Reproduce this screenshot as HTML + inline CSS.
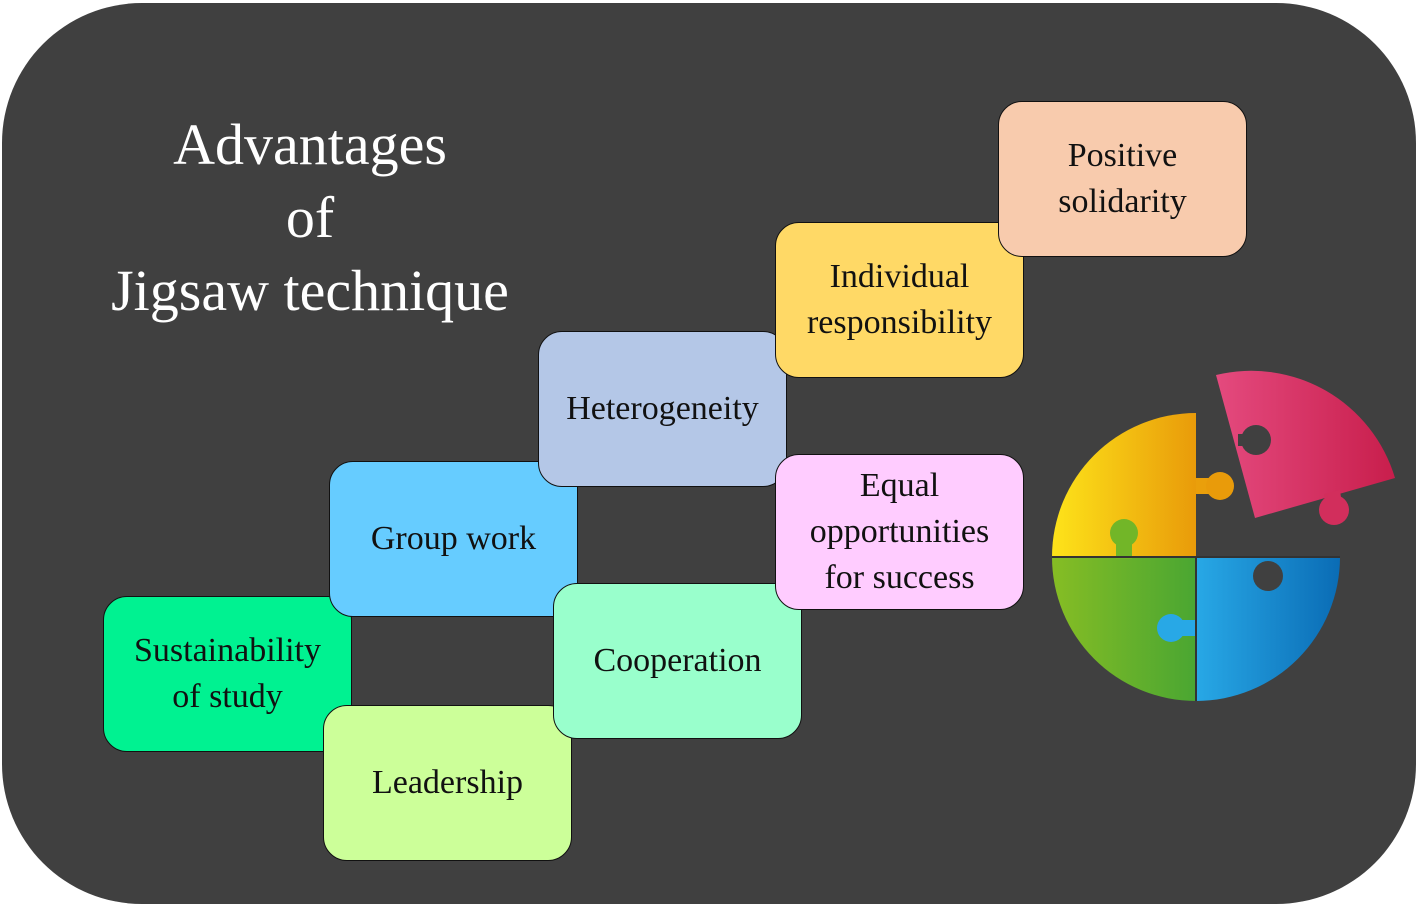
<!DOCTYPE html>
<html><head><meta charset="utf-8"><style>
html,body{margin:0;padding:0;background:#fff;}
body{width:1418px;height:906px;position:relative;overflow:hidden;font-family:"Liberation Serif",serif;}
#bg{position:absolute;left:2px;top:3px;width:1414px;height:901px;background:#404040;border-radius:140px;}
.t{position:absolute;color:#fff;font-size:58px;text-align:center;width:520px;left:50px;line-height:73px;top:108px;}
.b{position:absolute;width:249px;height:156px;border:1.5px solid #111;border-radius:24px;box-sizing:border-box;display:flex;align-items:center;justify-content:center;text-align:center;font-size:34px;line-height:46px;color:#111;}
</style></head><body>
<div id="bg"></div>
<div class="t">Advantages<br>of<br>Jigsaw technique</div>
<div class="b" style="left:103px;top:596px;background:#00f291;">Sustainability<br>of study</div>
<div class="b" style="left:323px;top:705px;background:#ccff99;">Leadership</div>
<div class="b" style="left:329px;top:461px;background:#66ccff;">Group work</div>
<div class="b" style="left:538px;top:331px;background:#b4c7e7;">Heterogeneity</div>
<div class="b" style="left:553px;top:583px;background:#99ffcc;">Cooperation</div>
<div class="b" style="left:775px;top:222px;background:#ffd966;">Individual<br>responsibility</div>
<div class="b" style="left:998px;top:101px;background:#f8cbad;">Positive<br>solidarity</div>
<div class="b" style="left:775px;top:454px;background:#ffccff;">Equal<br>opportunities<br>for success</div>
<svg style="position:absolute;left:0;top:0" width="1418" height="906">
<defs>
<linearGradient id="gy" x1="0" x2="1"><stop offset="0" stop-color="#fde31a"/><stop offset="1" stop-color="#e99b0a"/></linearGradient>
<linearGradient id="gg" x1="0" x2="1"><stop offset="0" stop-color="#86bd24"/><stop offset="1" stop-color="#4aa632"/></linearGradient>
<linearGradient id="gb" x1="0" x2="1"><stop offset="0" stop-color="#28a8e6"/><stop offset="1" stop-color="#0a6cb5"/></linearGradient>
<linearGradient id="gp" x1="0" x2="1"><stop offset="0" stop-color="#e44a7e"/><stop offset="1" stop-color="#c81e4c"/></linearGradient>
</defs>
<path d="M1052,557 A144,144 0 0 1 1196,413 L1196,557 Z" fill="url(#gy)"/>
<rect x="1196" y="478" width="20" height="16" fill="#ea9f0b"/>
<circle cx="1220" cy="486" r="14" fill="#e99b0a"/>
<path d="M1052,557 A144,144 0 0 0 1196,701 L1196,557 Z" fill="url(#gg)"/>
<rect x="1116" y="535" width="16" height="24" fill="#72b628"/>
<circle cx="1124" cy="533" r="14" fill="#72b628"/>
<path d="M1340,557 A144,144 0 0 1 1196,701 L1196,557 Z" fill="url(#gb)"/>
<rect x="1175" y="620" width="22" height="16" fill="#28a8e6"/>
<circle cx="1171" cy="628" r="14" fill="#28a8e6"/>
<circle cx="1268" cy="576" r="15" fill="#404040"/>
<line x1="1052" y1="557" x2="1340" y2="557" stroke="#333" stroke-width="2"/>
<line x1="1196" y1="557" x2="1196" y2="701" stroke="#333" stroke-width="2"/>
<path d="M1216,375 A150,150 0 0 1 1395,478 L1255,518 Z" fill="url(#gp)"/>
<circle cx="1256" cy="440" r="15" fill="#404040"/>
<rect x="1238" y="434" width="18" height="12" fill="#404040"/>
<path d="M1324,494 L1340,490 L1342,505 L1326,508 Z" fill="#d22e5c"/>
<circle cx="1334" cy="510" r="15" fill="#d22e5c"/>
</svg>
</body></html>
